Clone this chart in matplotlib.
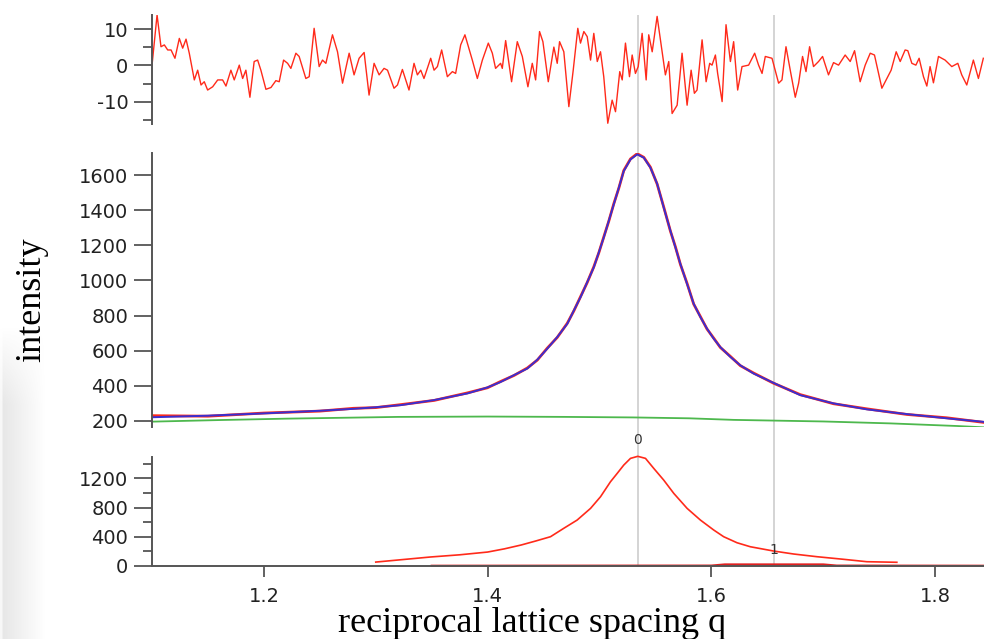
import numpy as np
import matplotlib.pyplot as plt
from matplotlib.ticker import MultipleLocator

plt.rcParams["axes.unicode_minus"] = False

# --- residuals (top panel) -----------------------------------------------
res_q = [1.1000, 1.1045, 1.1080, 1.1110, 1.1140, 1.1170, 1.1205, 1.1244, 1.1274,
         1.1304, 1.1333, 1.1378, 1.1408, 1.1438, 1.1467, 1.1497, 1.1542, 1.1587,
         1.1631, 1.1661, 1.1705, 1.1735, 1.1780, 1.1810, 1.1839, 1.1875, 1.1913,
         1.1944, 1.1973, 1.2018, 1.2063, 1.2107, 1.2137, 1.2176, 1.2212, 1.2241,
         1.2286, 1.2315, 1.2375, 1.2405, 1.2449, 1.2494, 1.2524, 1.2554, 1.2613,
         1.2658, 1.2703, 1.2762, 1.2806, 1.2851,
         1.2896, 1.2940, 1.2985, 1.3030, 1.3074, 1.3105, 1.3163, 1.3194, 1.3238,
         1.3297, 1.3342, 1.3372, 1.3402, 1.3431, 1.3491, 1.3521, 1.3551, 1.3589,
         1.3640, 1.3685, 1.3714, 1.3759, 1.3797, 1.3819, 1.3863, 1.3908, 1.3953,
         1.4006, 1.4042, 1.4071, 1.4116, 1.4131, 1.4161, 1.4214, 1.4265, 1.4310,
         1.4360, 1.4399, 1.4429, 1.4464, 1.4494, 1.4542, 1.4592, 1.4622, 1.4643,
         1.4681,
         1.4726, 1.4765, 1.4806, 1.4830, 1.4860, 1.4890, 1.4920, 1.4949, 1.4980,
         1.5009, 1.5038, 1.5074, 1.5113, 1.5143, 1.5181, 1.5203, 1.5232, 1.5268,
         1.5292, 1.5321, 1.5346, 1.5381, 1.5417, 1.5440, 1.5471, 1.5515, 1.5545,
         1.5589, 1.5619, 1.5649, 1.5694, 1.5738, 1.5783, 1.5819, 1.5848, 1.5872,
         1.5917, 1.5953, 1.5985, 1.6006, 1.6036, 1.6056, 1.6096, 1.6131, 1.6170,
         1.6199, 1.6235, 1.6274, 1.6333, 1.6387, 1.6422, 1.6453, 1.6482,
         1.6542, 1.6601, 1.6631, 1.6667, 1.6705, 1.6750, 1.6780, 1.6815, 1.6846,
         1.6878, 1.6913, 1.6958, 1.6994, 1.7047, 1.7092, 1.7137, 1.7196, 1.7241,
         1.7280, 1.7330, 1.7375, 1.7420, 1.7458, 1.7524, 1.7569, 1.7607, 1.7652,
         1.7688, 1.7732, 1.7756, 1.7792, 1.7828, 1.7857, 1.7896, 1.7926, 1.7955,
         1.7985, 1.8030, 1.8089, 1.8149, 1.8203, 1.8238, 1.8283, 1.8342, 1.8387,
         1.8431]
res_val = [0.1, 14.0, 5.2, 5.7, 4.3, 4.3, 2.0, 7.5, 4.8, 7.3, 3.4, -4.0, -1.3,
           -5.4, -4.5, -6.8, -5.9, -4.0, -4.0, -5.7, -1.3, -4.0, 0.1, -3.6, -1.3,
           -8.8, 1.1, 1.5, -1.3, -6.6, -6.1, -4.2, -4.5, 1.5, 0.6, -0.8, 3.4, 2.5,
           -3.6, -3.1, 10.3, -0.3, 1.5, 0.6, 8.5, 3.8, -4.9, 3.4, -2.6, 2.0,
           3.6, -8.2, 0.6, -2.6, -0.8, -1.3, -6.3, -5.4, -1.1, -6.8, 0.6, -2.6,
           -1.3, -3.6, 2.0, -1.3, -0.3, 4.3, -3.1, -1.7, -2.2, 5.7, 8.5, 6.2, 1.5,
           -3.6, 1.5, 6.2, 3.4, -0.8, 0.6, -0.8, 6.9, -4.5, 6.6, 2.5, -5.9, 0.6,
           -4.0, 9.4, 6.6, -4.5, 5.1, 0.6, 6.6, 3.8,
           -11.4, -1.3, 10.3, 6.2, 9.4, 8.0, 1.5, 8.9, 1.1, 3.8, -3.1, -16.0,
           -9.6, -12.8, -1.7, -4.0, 6.2, -3.1, 2.9, -2.2, -0.3, 8.9, -4.0, 8.5,
           3.8, 13.6, 7.1, -2.6, 1.1, -13.3, -11.0, 3.4, -11.0, -1.3, -7.7, -6.8,
           7.1, -4.5, 0.6, 0.1, 2.9, -2.2, -10.0, 11.3, 1.1, 6.6, -6.8, -0.3, 0.1,
           3.4, 0.1, -2.2, 2.5,
           2.0, -4.9, -4.0, 5.2, -1.3, -8.8, -4.9, 2.5, -1.7, 5.2, -0.3, 1.1, 2.5,
           -2.6, 0.8, 0.1, 2.9, 1.1, 4.1, -4.5, 0.1, 3.4, 2.9, -6.3, -3.6, -1.3,
           3.8, 1.1, 4.3, 4.1, 0.6, 0.1, 2.0, -3.1, -5.7, -0.3, -4.8, 2.5, 1.5,
           -0.3, 0.6, -2.6, -5.4, 1.5, -3.6, 2.0]

# --- measured intensity, fit and background (middle panel) ----------------
fit_q = [1.1000, 1.1500, 1.2000, 1.2500, 1.2800, 1.3000, 1.3223, 1.3522,
         1.3820, 1.3998, 1.4116, 1.4235, 1.4355, 1.4444, 1.4533, 1.4622,
         1.4712, 1.4771, 1.4830, 1.4890, 1.4949, 1.4994, 1.5038, 1.5083,
         1.5128, 1.5173, 1.5217, 1.5277, 1.5337, 1.5396, 1.5455, 1.5515,
         1.5574, 1.5634, 1.5679, 1.5723, 1.5783, 1.5842, 1.5902, 1.5961,
         1.6021, 1.6080, 1.6170, 1.6259, 1.6378, 1.6556, 1.6795, 1.7092,
         1.7390, 1.7747, 1.8104, 1.8431]
fit_int = [220, 229, 242, 257, 268, 277, 289, 318, 356, 390, 421, 460, 498,
           548, 611, 677, 753, 829, 904, 990, 1075, 1160, 1245, 1340, 1435,
           1529, 1624, 1690, 1719, 1700, 1643, 1552, 1416, 1283, 1188, 1094,
           980, 867, 791, 725, 668, 620, 564, 516, 469, 416, 346, 299, 265,
           238, 214, 194]
data_int = [229, 226, 244, 255, 271, 275, 292, 316, 359, 388, 424, 458, 501,
            546, 614, 675, 756, 827, 907, 988, 1078, 1158, 1248, 1338, 1438,
            1527, 1627, 1693, 1723, 1702, 1646, 1550, 1419, 1281, 1191, 1092,
            983, 865, 794, 723, 671, 618, 567, 514, 472, 414, 349, 297, 268,
            236, 217, 191]

bg_q = [1.100, 1.160, 1.220, 1.320, 1.400, 1.470, 1.530, 1.580, 1.620, 1.700,
        1.760, 1.820, 1.845]
bg_int = [195, 204, 212, 222, 224, 222, 219, 214, 205, 196, 185, 170, 162]

# --- fitted peak components (bottom panel) --------------------------------
comp0_q = [1.3000, 1.3490, 1.3750, 1.4000, 1.4150, 1.4300, 1.4430, 1.4562,
           1.4680, 1.4800, 1.4920, 1.5009, 1.5098, 1.5158, 1.5217, 1.5277,
           1.5342, 1.5411, 1.5485, 1.5574, 1.5664, 1.5783, 1.5902, 1.6021,
           1.6110, 1.6229, 1.6348, 1.6556, 1.6735, 1.6943, 1.7182, 1.7390,
           1.7658]
comp0 = [50, 120, 150, 188, 232, 285, 340, 399, 514, 628, 789, 949, 1155, 1270,
         1385, 1477, 1505, 1477, 1339, 1178, 995, 789, 628, 491, 399, 316, 261,
         202, 161, 124, 88, 55, 47]
comp1_q = [1.350, 1.600, 1.612, 1.700, 1.712, 1.845]
comp1 = [0, 2, 18, 18, 2, 0]

peak_pos = [1.5342, 1.6556]
peak_names = ["0", "1"]
peak_label_y = [1730, 215]

RED = "#ff2a1a"
GRAY = "#555555"
XLIM = (1.1, 1.8437)

fig = plt.figure(figsize=(9.84, 6.39), dpi=100)

# faint shadow strip on the left edge (screenshot artefact)
sh = fig.add_axes([0, 0, 0.05, 0.49], zorder=-5)
gx = np.linspace(0, 1, 60)
gy = np.linspace(0, 1, 100)
shade = np.clip(1 - gx[None, :] * 1.1, 0, 1) * np.clip(gy[:, None] * 4, 0, 1)
shade[:, :3] *= 0.3
rgba = np.zeros((100, 60, 4))
rgba[..., :3] = 0.78
rgba[..., 3] = shade * 0.45
sh.imshow(rgba, aspect="auto", origin="upper", extent=(0, 1, 0, 1))
sh.axis("off")

# overlay axes for the vertical peak-position lines through all panels
ov = fig.add_axes([0.1545, 0.1142, 1 - 0.1545, 0.9765 - 0.1142], zorder=-1)
ov.set_xlim(*XLIM)
ov.axis("off")
for p in peak_pos:
    ov.axvline(p, color="#d4d4d4", lw=1.4)

ax_res = fig.add_axes([0.1545, 0.806, 1 - 0.1545, 0.1706])
ax_main = fig.add_axes([0.1545, 0.3322, 1 - 0.1545, 0.4279])
ax_pk = fig.add_axes([0.1545, 0.1147, 1 - 0.1545, 0.1706])

for ax in (ax_res, ax_main, ax_pk):
    ax.set_facecolor("none")
    ax.set_xlim(*XLIM)
    for s in ("top", "right"):
        ax.spines[s].set_visible(False)
    ax.spines["left"].set_color(GRAY)
    ax.spines["left"].set_linewidth(1.4)
    ax.tick_params(axis="y", which="major", direction="out", length=13,
                   width=1.3, color=GRAY, pad=4, labelsize=14, labelcolor="#222222")
    ax.tick_params(axis="y", which="minor", direction="out", length=6.5,
                   width=1.3, color=GRAY)

for ax in (ax_res, ax_main):
    ax.spines["bottom"].set_visible(False)
    ax.tick_params(axis="x", bottom=False, labelbottom=False)

# residuals
ax_res.plot(res_q, res_val, color=RED, lw=1.0, solid_joinstyle="round")
ax_res.set_ylim(-16.2, 14)
ax_res.yaxis.set_major_locator(MultipleLocator(10))
ax_res.yaxis.set_minor_locator(MultipleLocator(5))

# intensity
ax_main.plot(fit_q, data_int, color=RED, lw=2.0)
ax_main.plot(fit_q, fit_int, color="#3a2fd0", lw=1.4)
ax_main.plot(bg_q, bg_int, color="#4db84d", lw=1.3)
ax_main.set_ylim(166, 1725)
ax_main.yaxis.set_major_locator(MultipleLocator(200))
ax_main.set_ylabel("intensity", family="Liberation Serif", fontsize=26)
ax_main.yaxis.set_label_coords(-0.125, 0.465)

# peak components
ax_pk.plot(comp0_q, comp0, color=RED, lw=1.2, clip_on=False)
ax_pk.plot(comp1_q, comp1, color="#e02020", lw=1.5, clip_on=False)
ax_pk.set_ylim(0, 1500)
ax_pk.yaxis.set_major_locator(MultipleLocator(400))
ax_pk.yaxis.set_minor_locator(MultipleLocator(200))
ax_pk.spines["bottom"].set_color(GRAY)
ax_pk.spines["bottom"].set_linewidth(1.4)
ax_pk.set_xticks([1.2, 1.4, 1.6, 1.8])
ax_pk.xaxis.set_major_formatter(plt.FuncFormatter(lambda v, _: f"{v:.1f}"))
ax_pk.tick_params(axis="x", direction="out", length=8, width=1.3, color=GRAY,
                  pad=7, labelsize=14, labelcolor="#222222")
ax_pk.set_xlabel("reciprocal lattice spacing q", family="Liberation Serif",
                 fontsize=26, va="top")
ax_pk.xaxis.set_label_coords(0.457, -0.38)
for p, name, ly in zip(peak_pos, peak_names, peak_label_y):
    ax_pk.text(p, ly, name, ha="center", va="center", fontsize=10,
               color="#333333", clip_on=False)

fig.savefig("out.png", dpi=100)
